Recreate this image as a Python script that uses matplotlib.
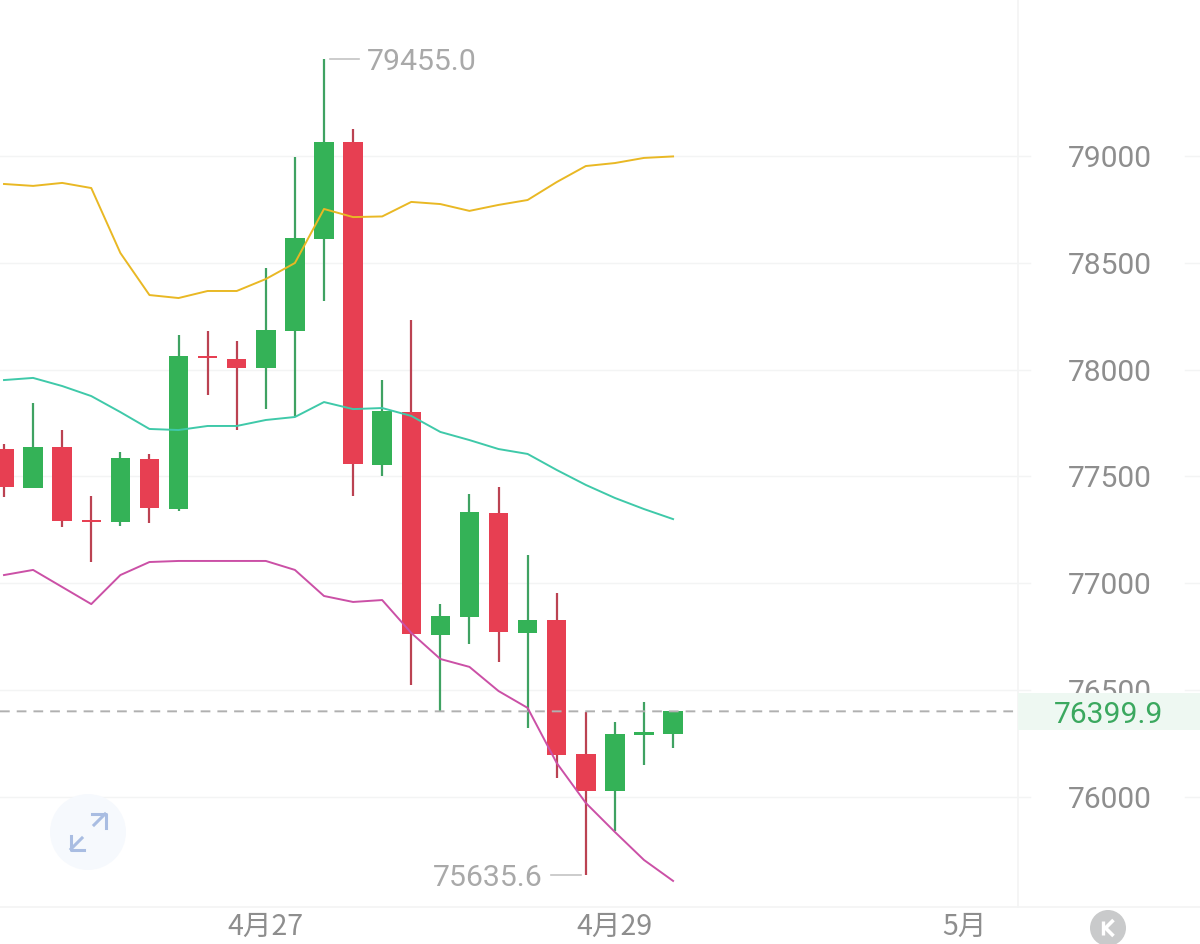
import matplotlib
matplotlib.use("Agg")
import matplotlib.pyplot as plt
from matplotlib.patches import Circle, Rectangle

plt.rcParams['font.family'] = ['Roboto', 'Noto Sans CJK SC', 'DejaVu Sans']

opens  = [77628, 77446, 77638, 77295, 77286, 77581, 77347, 78062, 78050, 78007, 78181, 78611, 79066, 77553, 77801, 76757, 76842, 77329, 76767, 76828, 76200, 76027, 76291, 76294]
closes = [77450, 77638, 77291, 77285, 77586, 77352, 78064, 78052, 78007, 78185, 78616, 79066, 77558, 77806, 76762, 76846, 77333, 76771, 76828, 76195, 76027, 76294, 76301, 76399.9]
highs  = [77651, 77844, 77717, 77408, 77614, 77605, 78162, 78181, 78134, 78476, 78995, 79455.0, 79126, 77951, 78232, 76902, 77417, 77450, 77132, 76954, 76397, 76350, 76444, 76399.9]
lows   = [77403, 77446, 77263, 77099, 77268, 77282, 77338, 77881, 77717, 77815, 77783, 78321, 77408, 77502, 76523, 76401, 76715, 76631, 76322, 76088, 75635.6, 75840, 76149, 76228]
upper  = [78869, 78860, 78874, 78850, 78546, 78349, 78335, 78368, 78368, 78424, 78499, 78752, 78714, 78717, 78785, 78775, 78743, 78771, 78794, 78878, 78953, 78967, 78991, 78998]
middle = [77951, 77961, 77923, 77876, 77801, 77722, 77717, 77736, 77736, 77764, 77778, 77848, 77815, 77820, 77783, 77708, 77670, 77628, 77605, 77530, 77460, 77399, 77347, 77300]
lower  = [77038, 77062, 76982, 76902, 77038, 77099, 77104, 77104, 77104, 77104, 77062, 76940, 76912, 76921, 76767, 76645, 76608, 76495, 76416, 76158, 75971, 75835, 75704, 75606]
y_ticks = [76000, 76500, 77000, 77500, 78000, 78500, 79000]
x_tick_pos = [9, 21, 33]
x_tick_labels = ['4月27', '4月29', '5月']
last_price = 76399.9
high_label = '79455.0'
low_label = '75635.6'

W, H = 1200, 944
GREEN, RED = '#34b257', '#e73f52'
WICK_G, WICK_R = '#3fa262', '#bb4252'
GRID = '#f3f4f4'
TXT = '#8e8e8e'

fig = plt.figure(figsize=(12, 9.44), dpi=100, facecolor='white')
ax = fig.add_axes([0, 0, 1, 1])
ax.set_xlim(-4 / 29.09, 1196 / 29.09)
ax.set_ylim(79730.4 - 4.682 * H, 79730.4)
ax.axis('off')

# overlay in pixel units for chrome
ov = fig.add_axes([0, 0, 1, 1], zorder=5)
ov.set_xlim(0, W); ov.set_ylim(H, 0); ov.axis('off'); ov.patch.set_alpha(0)

# grid, broken around the price labels
trans = ax.get_yaxis_transform()
for t in y_ticks:
    ax.plot([0, 1030 / W], [t, t], transform=trans, color=GRID, lw=1, zorder=1)
    ax.plot([1185 / W, 1], [t, t], transform=trans, color=GRID, lw=1, zorder=1)
ov.plot([1018, 1018], [0, 907], color=GRID, lw=1.2, zorder=1)
ov.plot([0, W], [907, 907], color=GRID, lw=1.2, zorder=1)

# candles
for i, (o, c, h, l) in enumerate(zip(opens, closes, highs, lows)):
    up = c >= o
    ax.vlines(i, l, h, color=WICK_G if up else WICK_R, lw=1.6, zorder=3)
    ax.bar(i, abs(c - o), bottom=min(o, c), width=0.67, color=GREEN if up else RED, lw=0, zorder=4)

# bands
xs = range(len(upper))
ax.plot(xs, upper, color='#e9b824', lw=1.4, zorder=5)
ax.plot(xs, middle, color='#3fc9a9', lw=1.4, zorder=5)
ax.plot(xs, lower, color='#cb50a6', lw=1.4, zorder=5)

# last price line
ax.plot([0, 1015 / W], [last_price, last_price], transform=trans, color='#b0b0b0', lw=1.4,
        dashes=(5, 3.6), zorder=6, snap=False)

# y labels, the 76500 one partly hidden by the last price badge
for t in y_ticks:
    ov.text(1109.5, (79730.4 - t) / 4.682, str(t), ha='center', va='center_baseline', fontsize=21.6,
            color=TXT, zorder=1)

ov.add_patch(Rectangle((1018, 693), 182, 37, fc='#eef8f2', ec='none', zorder=2))
ov.text(1109, 712, f'{last_price:.1f}', ha='center', va='center_baseline', fontsize=21.6, color='#3ba85f', zorder=3)

# extremes
ov.plot([330, 359], [59, 59], color='#c4c4c4', lw=1.2)
ov.text(367, 59, high_label, ha='left', va='center_baseline', fontsize=21.8, color='#a9a9a9')
ov.plot([551, 581], [875, 875], color='#c4c4c4', lw=1.2)
ov.text(543, 875, low_label, ha='right', va='center_baseline', fontsize=21.8, color='#a9a9a9')

# x labels
xtrans = ax.get_xaxis_transform()
for p, s in zip(x_tick_pos, x_tick_labels):
    ax.text(p, 1 - 927 / H, s, transform=xtrans, ha='center', va='center', fontsize=20.6, color=TXT,
            family=['Noto Sans CJK SC', 'DejaVu Sans'])

# K badge
ov.add_patch(Circle((1108, 928), 18, fc='#c9cacb', ec='none'))
ov.plot([1102.5, 1102.5], [921, 935], color='white', lw=2.4, solid_capstyle='butt')
ov.plot([1113.5, 1105.5, 1113.5], [920, 928, 936], color='white', lw=2.6, solid_capstyle='butt')

# expand button
ov.add_patch(Circle((88, 832), 38, fc='#f6f9fd', ec='none'))
ic = '#a9bde2'
ov.plot([94, 105], [825, 814], color=ic, lw=2.2)
ov.plot([92, 106, 106], [814, 814, 828], color=ic, lw=2.2)
ov.plot([71, 82], [849, 838], color=ic, lw=2.2)
ov.plot([71, 71, 84], [836, 850, 850], color=ic, lw=2.2)

fig.savefig('out.png', dpi=100, facecolor='white')
